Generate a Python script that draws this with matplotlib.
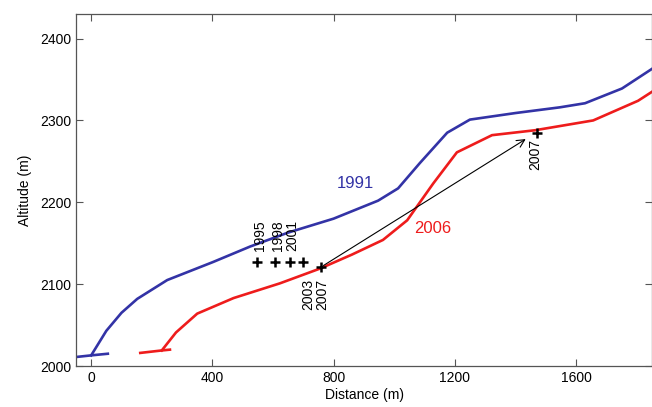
import matplotlib
matplotlib.use("Agg")
from matplotlib import pyplot as plt

plt.rcParams['font.family'] = ['Liberation Sans', 'DejaVu Sans']

# profile 1991 (distance m, altitude m)
dist_1991 = [0, 50, 100, 152, 251, 402, 525, 650, 800, 947, 1013, 1085, 1175, 1250, 1400, 1547, 1630, 1752, 1851]
alt_1991 = [2013, 2043, 2065, 2082, 2105, 2127, 2146, 2163, 2180, 2202, 2217, 2248, 2285, 2301, 2309, 2316, 2321, 2339, 2363]
stub_1991_x = [-50, 0, 55]
stub_1991_y = [2011, 2013, 2015]

# profile 2006
dist_2006 = [233, 280, 350, 470, 623, 755, 860, 963, 1043, 1129, 1207, 1323, 1465, 1657, 1805, 1851]
alt_2006 = [2019, 2041, 2064, 2083, 2101, 2119, 2136, 2154, 2178, 2223, 2261, 2282, 2288, 2300, 2324, 2335]
stub_2006_x = [162, 233, 260]
stub_2006_y = [2016, 2019, 2020]

# terminus positions
years = ['1995', '1998', '2001', '2003', '2007']
term_x = [548, 607, 657, 700, 759]
term_y = [2127, 2127, 2127, 2127, 2121]
top_x, top_y = 1471, 2285

blue = '#3333a6'
red = '#ee1c1c'

fig = plt.figure(figsize=(6.52, 4.07), dpi=100)
ax = fig.add_axes([0.1166, 0.1007, 0.8834, 0.8649])

ax.plot(stub_1991_x, stub_1991_y, color=blue, lw=1.9)
ax.plot(dist_1991, alt_1991, color=blue, lw=1.9)
ax.plot(stub_2006_x, stub_2006_y, color=red, lw=1.9)
ax.plot(dist_2006, alt_2006, color=red, lw=1.9)

ax.plot(term_x, term_y, 'k+', ms=7.5, mew=1.8)
ax.plot([top_x], [top_y], 'k+', ms=7.5, mew=1.8)

ax.annotate('', xy=(1442, 2279), xytext=(term_x[-1], term_y[-1]),
            arrowprops=dict(arrowstyle='->', color='k', lw=0.8, mutation_scale=14))

for i in range(3):
    ax.text(term_x[i] + 8, term_y[i] + 14, years[i], rotation=90,
            ha='center', va='bottom', fontsize=10)
ax.text(term_x[3] + 15, term_y[3] - 21, years[3], rotation=90,
        ha='center', va='top', fontsize=10)
ax.text(term_x[4] + 3, term_y[4] - 15, years[4], rotation=90,
        ha='center', va='top', fontsize=10)
ax.text(top_x - 5, top_y - 8, '2007', rotation=90, ha='center', va='top', fontsize=10)

ax.text(873, 2223, '1991', color=blue, fontsize=12, ha='center', va='center')
ax.text(1128, 2168, '2006', color=red, fontsize=12, ha='center', va='center')

ax.set_xlim(-50, 1851)
ax.set_ylim(2000, 2430)
ax.set_xticks([0, 400, 800, 1200, 1600])
ax.set_yticks([2000, 2100, 2200, 2300, 2400])
ax.tick_params(direction='in', top=True, right=True, length=5, width=0.8,
               colors='#555555', labelcolor='k', labelsize=10)
for s in ax.spines.values():
    s.set_color('#555555')
    s.set_linewidth(0.9)
ax.set_xlabel('Distance (m)', fontsize=10, labelpad=2)
ax.set_ylabel('Altitude (m)', fontsize=10, labelpad=6)

fig.savefig('out.png', dpi=100)
